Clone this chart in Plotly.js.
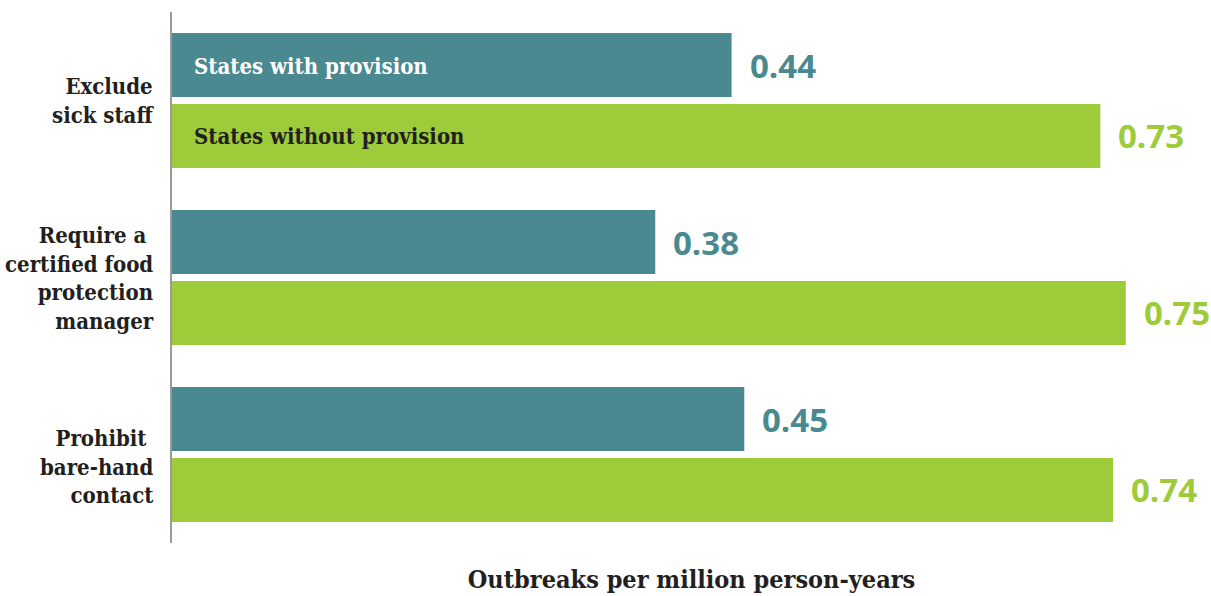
<!DOCTYPE html>
<html>
<head>
<meta charset="utf-8">
<script src="https://cdn.plot.ly/plotly-3.0.1.min.js"></script>
<style>html,body{margin:0;padding:0;background:#fff;}#chart{width:1211px;height:596px;}</style>
</head>
<body>
<div id="chart"></div>
<script>
const categories = ["Exclude<br>sick staff", "Require a <br>certified food<br>protection<br>manager", "Prohibit <br>bare-hand<br>contact"];
const withProvision = [0.44, 0.38, 0.45];
const withoutProvision = [0.73, 0.75, 0.74];
const seriesNames = ["States with provision", "States without provision"];
const valueLabels = [["0.44", "0.38", "0.45"], ["0.73", "0.75", "0.74"]];

const TEAL = "#4a8990";
const GREEN = "#9ecb3a";
const INK = "#231f20";
const SERIF = "'DejaVu Serif Condensed', 'DejaVu Serif', serif";
const SANS = "'Open Sans', 'DejaVu Sans', sans-serif";

const traces = [
  {type: "bar", orientation: "h", name: seriesNames[0], y: categories, x: withProvision,
   marker: {color: TEAL}, hoverinfo: "none"},
  {type: "bar", orientation: "h", name: seriesNames[1], y: categories, x: withoutProvision,
   marker: {color: GREEN}, hoverinfo: "none"}
];

const annotations = [];
const series = [withProvision, withoutProvision];
const colors = [TEAL, GREEN];
series.forEach((vals, s) => {
  vals.forEach((v, i) => {
    annotations.push({x: v, y: categories[i], xref: "x", yref: "y", text: valueLabels[s][i],
      showarrow: false, xanchor: "left", xshift: 16, yshift: s === 0 ? 35 : -35,
      font: {family: SANS, size: 33, color: colors[s], weight: 700}});
  });
});
annotations.push({x: 0, y: categories[0], xref: "x", yref: "y", text: "<b>" + seriesNames[0] + "</b>",
  showarrow: false, xanchor: "left", xshift: 20, yshift: 35, font: {family: SERIF, size: 22, color: "#ffffff"}});
annotations.push({x: 0, y: categories[0], xref: "x", yref: "y", text: "<b>" + seriesNames[1] + "</b>",
  showarrow: false, xanchor: "left", xshift: 20, yshift: -35, font: {family: SERIF, size: 22, color: INK}});

// category labels (drawn as annotations to allow per-label vertical placement)
const labelShift = [0, 0, -12];
categories.forEach((c, i) => {
  annotations.push({x: 0, xref: "paper", y: c, yref: "y", text: "<b>" + c + "</b>", showarrow: false,
    xanchor: "right", align: "right", xshift: -16, yshift: labelShift[i],
    font: {family: SERIF, size: 22, color: INK}});
});

const layout = {
  width: 1211, height: 596,
  margin: {l: 172, r: 0, t: 12, b: 53},
  paper_bgcolor: "#ffffff", plot_bgcolor: "#ffffff",
  barmode: "group", bargap: 0.198, bargroupgap: 0.099,
  showlegend: false,
  font: {family: SERIF, color: INK},
  xaxis: {range: [0, 0.817], showticklabels: false, showgrid: false, zeroline: false, showline: false,
    title: {text: "<b>Outbreaks per million person-years</b>", font: {family: SERIF, size: 25, color: INK}, standoff: 27}},
  yaxis: {autorange: "reversed", showgrid: false, zeroline: false, showline: true, linecolor: "#9a9a9a", linewidth: 2,
    ticks: "", showticklabels: false},
  annotations: annotations
};

Plotly.newPlot("chart", traces, layout, {displayModeBar: false, staticPlot: true});
</script>
</body>
</html>
